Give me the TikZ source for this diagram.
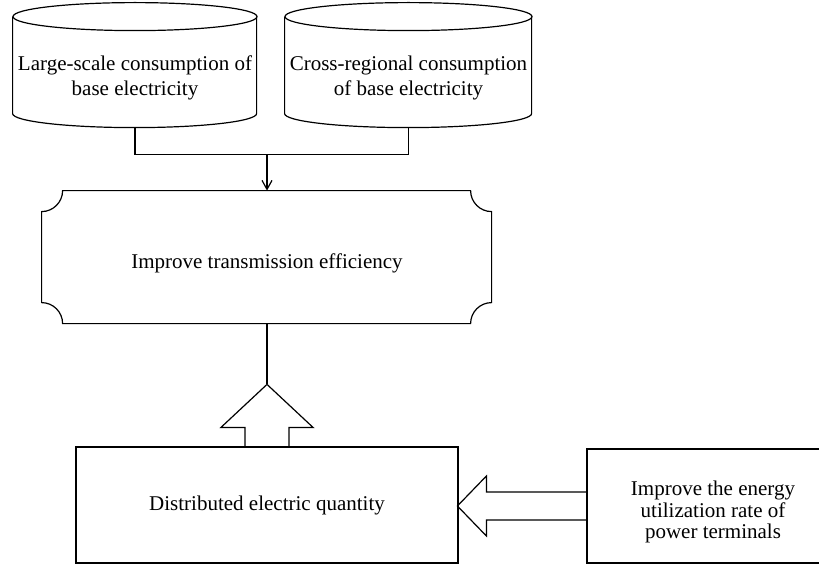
\documentclass[tikz,border=0pt]{standalone}
\usepackage{fontspec}
\setmainfont{Liberation Serif}
\usetikzlibrary{arrows.meta, calc}

\tikzset{
    plainLine/.style = {line width = 0.6pt},
    store/.style = {minimum width = 122pt, minimum height = 62.5pt, inner sep = 0pt},
    blockText/.style = {align = center, font = \fontsize{10.5pt}{12.5pt}\selectfont},
    stage/.style = {blockText, anchor = center, inner sep = 0pt},
    thinArrow/.style = {plainLine, -{Straight Barb[length = 4.5pt, width = 5pt]}},
}

\begin{document}
\begin{tikzpicture}[x = 0.5pt, y = 0.5pt]

    \useasboundingbox (0,0) rectangle (819,-567);

    %% Drawing the two stores of base electricity
    \node [store] (largeStore) at (135,-65.5) {};
    \node [store, minimum width = 123.5pt] (crossStore) at (408.5,-65.5) {};

    \foreach \store/\wide in {largeStore/244, crossStore/247} {
        \draw [plainLine]
        (\store.north)
        ++(0,-14)
        ellipse [x radius = \wide/2, y radius = 14]
        ;

        \draw [plainLine]
        (\store.north west)
        ++(0,-14)
        -- ++(0,-97)
        arc [start angle = 180, end angle = 360, x radius = \wide/2, y radius = 14]
        -- ++(0,97)
        ;
    }

    \node [blockText] (largeText) at ([yshift = -6pt] largeStore.center)
    {Large-scale consumption of \\ base electricity};

    \node [blockText] (crossText) at ([yshift = -6pt] crossStore.center)
    {Cross-regional consumption \\ of base electricity};

    %% Drawing Improve transmission efficiency
    \node [stage, minimum width = 225pt, minimum height = 66.5pt]
    (effBox) at (267,-257.5) {};

    \node [blockText] (effText) at ([yshift = -3pt] effBox.center)
    {Improve transmission efficiency};

    \draw [plainLine]
    (effBox.north west)
    ++(21,0)
    -- ++(408,0)
    arc [start angle = 180, end angle = 270, radius = 21]
    -- ++(0,-91)
    arc [start angle = 90, end angle = 180, radius = 21]
    -- ++(-408,0)
    arc [start angle = 0, end angle = 90, radius = 21]
    -- ++(0,91)
    arc [start angle = 270, end angle = 360, radius = 21]
    -- cycle
    ;

    %% Joining the stores
    \draw [plainLine]
    (largeStore.south)
    -- ++(0,-26)
    coordinate (joinLeft)
    -| (crossStore.south)
    ;

    \draw [thinArrow]
    (joinLeft -| effBox.north) -- (effBox.north)
    ;

    %% Drawing Distributed electric quantity
    \node [stage, draw, plainLine, minimum width = 191pt, minimum height = 58pt]
    (distBox) at (267,-505) {Distributed electric quantity};

    \draw [plainLine]
    (distBox.north)
    ++(-22,0)
    -- ++(0,19)
    -- ++(-24,0)
    -- ++(46,43)
    coordinate (upTip)
    -- ++(46,-43)
    -- ++(-24,0)
    -- ++(0,-19)
    ;

    \draw [plainLine]
    (effBox.south) -- (upTip)
    ;

    %% Drawing power terminals
    \node [stage, draw, plainLine, minimum width = 126pt, minimum height = 57pt]
    (termBox) at (713,-506) {};

    \node [blockText, font = \fontsize{10.5pt}{10.8pt}\selectfont]
    (termText) at ([yshift = -3pt] termBox.center)
    {Improve the energy \\ utilization rate of \\ power terminals};

    \draw [plainLine]
    (termBox.west)
    ++(0,14)
    -- ++(-100,0)
    -- ++(0,16)
    -- ++(-29,-30)
    coordinate (leftTip)
    -- ++(29,-30)
    -- ++(0,16)
    -- ++(100,0)
    ;

\end{tikzpicture}
\end{document}
